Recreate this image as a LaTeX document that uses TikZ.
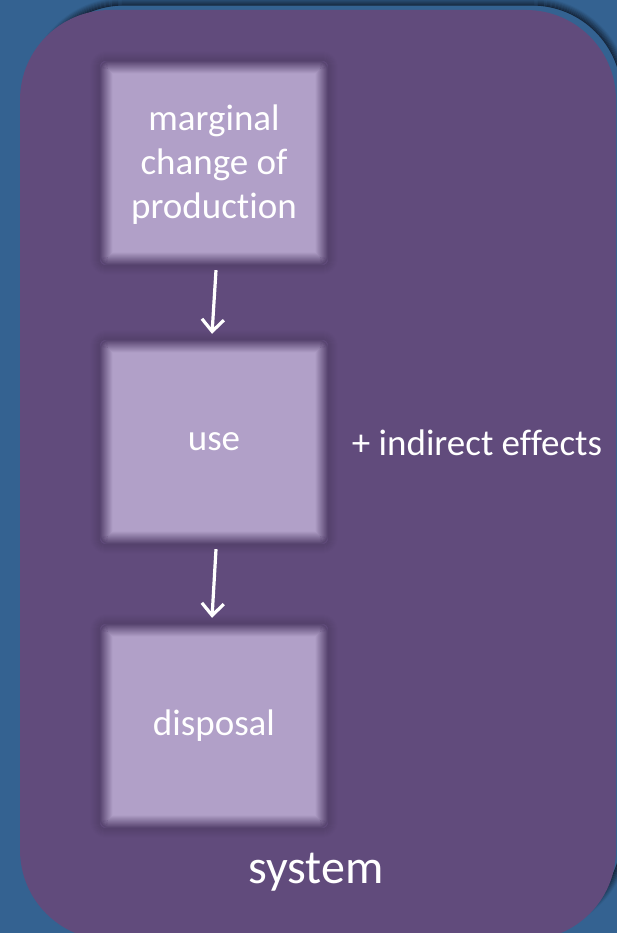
\documentclass[tikz,border=0pt]{standalone}
\usepackage{fontspec}
\setmainfont{Carlito}[RawFeature=-liga]
\usetikzlibrary{arrows.meta}
\definecolor{bgblue}{RGB}{52,98,145}
\definecolor{purp}{RGB}{97,75,124}
\definecolor{lav}{RGB}{177,160,200}
\definecolor{shade}{RGB}{22,40,62}
\colorlet{purpdk}{purp!88!black}
\tikzset{
  stage/.style={minimum width=216pt, minimum height=192pt, inner sep=0pt, align=center,
    text=white, font=\fontsize{37}{44}\selectfont},
  flow/.style={white, line width=3.2pt, -{Straight Barb[length=12pt,width=22pt,line width=3.2pt]}},
  lbl/.style={text=white, inner sep=0pt}
}
\newcommand{\blurbox}[1]{%
  \foreach \j in {8,7,...,0}{%
    \pgfmathsetmacro{\off}{6.5+\j}%
    \pgfmathsetmacro{\pp}{int(100-11*\j)}%
    \draw[purpdk!\pp!purp, line width=1.05pt, rounded corners=\off pt] ([shift={(-\off pt,\off pt)}]#1.north west) rectangle ([shift={(\off pt,-\off pt)}]#1.south east);
  }%
  \fill[lav] ([shift={(7pt,-7pt)}]#1.north west) rectangle ([shift={(-7pt,7pt)}]#1.south east);
  \foreach \j in {0,...,12}{%
    \pgfmathsetmacro{\off}{-6.5+\j}%
    \pgfmathsetmacro{\pp}{int(97-7.7*\j)}%
    \pgfmathsetmacro{\rc}{max(\off+3,0.01)}%
    \draw[lav!\pp!purpdk, line width=1.05pt, rounded corners=\rc pt] ([shift={(-\off pt,\off pt)}]#1.north west) rectangle ([shift={(\off pt,-\off pt)}]#1.south east);
  }%
}
\begin{document}
\begin{tikzpicture}[x=1pt,y=-1pt]
\useasboundingbox (0,0) rectangle (617,933);
\fill[bgblue] (0,0) rectangle (617,933);
% soft shadow of the system panel (offset up-right)
\foreach \e in {7,6,...,0}{%
  \pgfmathsetmacro{\pp}{int(100-\e*13)}%
  \pgfmathsetmacro{\rr}{90+\e}%
  \draw[shade!\pp!bgblue, line width=1.1pt, rounded corners=\rr pt]
    (34-\e,5-\e) rectangle (622+\e,925+\e);
}
\fill[purp, rounded corners=90pt] (20,10) rectangle (616,940);
\node[stage] (b1) at (214,163) {};
\node[stage] (b2) at (214,442) {};
\node[stage] (b3) at (214,726) {};
\blurbox{b1}
\blurbox{b2}
\blurbox{b3}
\node[stage, text=white] (t1) at ([yshift=-2pt]b1.center) {marginal\\change of\\production};
\node[text=white, font=\fontsize{37}{44}\selectfont, inner sep=0pt] (t2) at (b2.center) {use};
\node[text=white, font=\fontsize{37}{44}\selectfont, inner sep=0pt] (t3) at (b3.center) {disposal};
\node[lbl, font=\fontsize{37}{40}\selectfont] (ind) at (477,443) {+ indirect effects};
\node[lbl, font=\fontsize{48}{52}\selectfont] (sys) at (316,872) {system};
\draw[flow] ([xshift=2pt,yshift=-11pt]b1.south) -- ([xshift=-2pt,yshift=12pt]b2.north);
\draw[flow] ([xshift=2pt,yshift=-11pt]b2.south) -- ([xshift=-2pt,yshift=12pt]b3.north);
\end{tikzpicture}
\end{document}
